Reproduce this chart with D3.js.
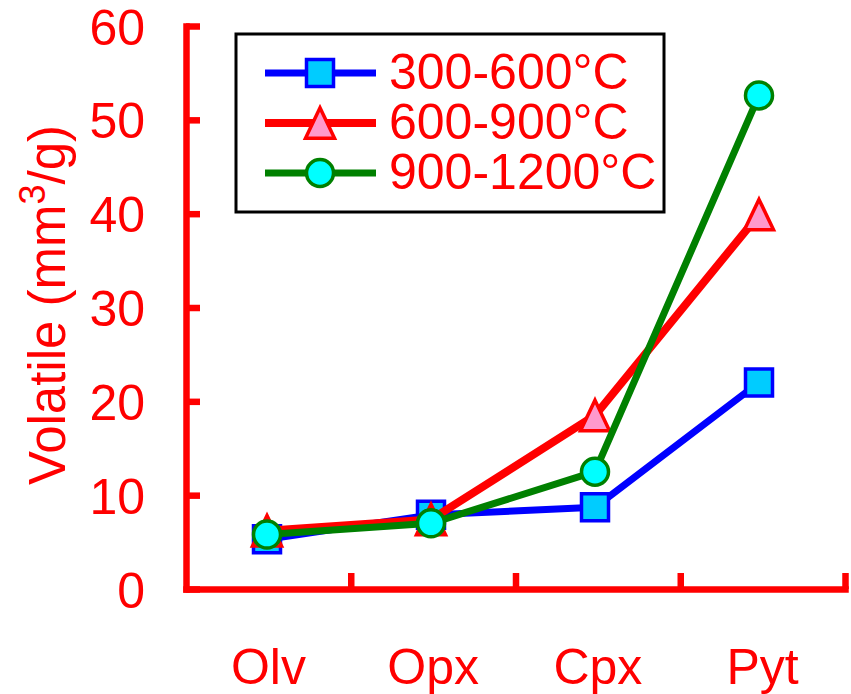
<!DOCTYPE html>
<html>
<head>
<meta charset="utf-8">
<script src="https://cdn.jsdelivr.net/npm/d3@7"></script>
<style>
  body { margin: 0; background: #fff; }
  text { font-family: Arial, "Liberation Sans", sans-serif; fill: #ff0000; }
</style>
</head>
<body>
<div id="chart"></div>
<script>
  var categories = ["Olv", "Opx", "Cpx", "Pyt"];
  var seriesNames = ["300-600°C", "600-900°C", "900-1200°C"];
  var low = [5.3, 7.9, 8.7, 22.0];
  var mid = [6.2, 7.4, 18.5, 39.9];
  var high = [5.8, 7.0, 12.5, 52.6];
  var yTicks = [0, 10, 20, 30, 40, 50, 60];

  var width = 851,
      height = 694,
      plotLeft = 186, plotRight = 845,
      plotTop = 26, plotBottom = 589;

  var svg = d3.select("#chart").append("svg")
      .attr("width", width)
      .attr("height", height);

  // labels sit in the middle of each band
  var x = d3.scaleBand()
      .domain(categories)
      .range([plotLeft, plotRight]);

  // data points are drawn a touch to the left of the band middles
  var xPoint = d3.scaleBand()
      .domain(categories)
      .range([plotLeft - 1, plotRight - 4]);

  var xEdge = d3.scaleLinear()
      .domain([0, categories.length])
      .range([plotLeft, plotRight]);

  var y = d3.scaleLinear()
      .domain([0, 60])
      .range([plotBottom, plotTop]);

  // taller-than-equilateral triangle, like the spreadsheet marker
  var triangle = {
    draw: function(context, size) {
      var w = Math.sqrt(size), h = w * 1.05;
      context.moveTo(0, -h / 2);
      context.lineTo(w / 2, h / 2);
      context.lineTo(-w / 2, h / 2);
      context.closePath();
    }
  };

  var series = [
    { name: seriesNames[0], values: low, line: "#0000ff", width: 7, fill: "#00ccff", stroke: "#0000ff", symbol: d3.symbolSquare, size: 27 * 27 },
    { name: seriesNames[1], values: mid, line: "#ff0000", width: 8, fill: "#ff99cc", stroke: "#ff0000", symbol: triangle, size: 29 * 29 },
    { name: seriesNames[2], values: high, line: "#008000", width: 7, fill: "#00ffff", stroke: "#008000", symbol: d3.symbolCircle, size: Math.PI * 13.5 * 13.5 }
  ];

  // y axis
  var yAxis = d3.axisLeft(y)
      .tickValues(yTicks)
      .tickSizeInner(-14)
      .tickSizeOuter(0)
      .tickPadding(41)
      .tickFormat(d3.format("d"));

  svg.append("g")
      .attr("class", "y axis")
      .attr("transform", "translate(" + plotLeft + ",0)")
      .call(yAxis)
      .call(g => g.select(".domain").attr("stroke", "#ff0000").attr("stroke-width", 6.5).attr("stroke-linecap", "square"))
      .call(g => g.selectAll(".tick line").attr("stroke", "#ff0000").attr("stroke-width", 6.5))
      .call(g => g.selectAll(".tick text")
          .attr("fill", "#ff0000")
          .attr("font-size", "50px")
          .attr("font-family", "Arial, 'Liberation Sans', sans-serif")
          .attr("dy", "0.36em"));

  // x axis: boundary ticks pointing up
  var xTicks = d3.axisBottom(xEdge)
      .tickValues(d3.range(1, categories.length + 1))
      .tickSizeInner(-16)
      .tickSizeOuter(0)
      .tickFormat("");

  svg.append("g")
      .attr("class", "x axis")
      .attr("transform", "translate(0," + plotBottom + ")")
      .call(xTicks)
      .call(g => g.select(".domain").attr("stroke", "#ff0000").attr("stroke-width", 6.5).attr("stroke-linecap", "square"))
      .call(g => g.selectAll(".tick line").attr("stroke", "#ff0000").attr("stroke-width", 6.5));

  // x axis: category labels
  var xLabels = d3.axisBottom(x)
      .tickSize(0)
      .tickPadding(59);

  svg.append("g")
      .attr("class", "x labels")
      .attr("transform", "translate(0," + plotBottom + ")")
      .call(xLabels)
      .call(g => g.select(".domain").remove())
      .call(g => g.selectAll(".tick text")
          .attr("fill", "#ff0000")
          .attr("font-size", "50px")
          .attr("font-family", "Arial, 'Liberation Sans', sans-serif"));

  // y title
  var title = svg.append("text")
      .attr("transform", "translate(65," + 305 + ") rotate(-90)")
      .attr("text-anchor", "middle")
      .attr("font-size", "51px");
  title.append("tspan").text("Volatile (mm");
  title.append("tspan").attr("font-size", "36px").attr("dy", -20).text("3");
  title.append("tspan").attr("dy", 20).text("/g)");

  // series
  var line = d3.line()
      .x((d, i) => xPoint(categories[i]) + xPoint.bandwidth() / 2)
      .y(d => y(d));

  series.forEach(function(s) {
    var g = svg.append("g");
    g.append("path")
        .datum(s.values)
        .attr("fill", "none")
        .attr("stroke", s.line)
        .attr("stroke-width", s.width)
        .attr("stroke-linejoin", "round")
        .attr("d", line);

    g.selectAll(".marker")
        .data(s.values)
      .enter().append("path")
        .attr("class", "marker")
        .attr("transform", (d, i) => "translate(" + (xPoint(categories[i]) + xPoint.bandwidth() / 2) + "," + y(d) + ")")
        .attr("d", d3.symbol().type(s.symbol).size(s.size))
        .attr("fill", s.fill)
        .attr("stroke", s.stroke)
        .attr("stroke-width", 3.5);
  });

  // legend
  var legend = svg.append("g");
  legend.append("rect")
      .attr("x", 236)
      .attr("y", 34)
      .attr("width", 428)
      .attr("height", 178)
      .attr("fill", "#fff")
      .attr("stroke", "#000")
      .attr("stroke-width", 3);

  var rows = legend.selectAll(".row")
      .data(series)
    .enter().append("g")
      .attr("class", "row")
      .attr("transform", (d, i) => "translate(0," + (73 + i * 50) + ")");

  rows.append("line")
      .attr("x1", 265)
      .attr("x2", 376)
      .attr("stroke", d => d.line)
      .attr("stroke-width", d => d.width);

  rows.append("path")
      .attr("transform", "translate(320,0)")
      .attr("d", d => d3.symbol().type(d.symbol).size(d.size)())
      .attr("fill", d => d.fill)
      .attr("stroke", d => d.stroke)
      .attr("stroke-width", 3.5);

  rows.append("text")
      .attr("x", 389)
      .attr("y", 16)
      .attr("font-size", "50px")
      .text(d => d.name);
</script>
</body>
</html>
